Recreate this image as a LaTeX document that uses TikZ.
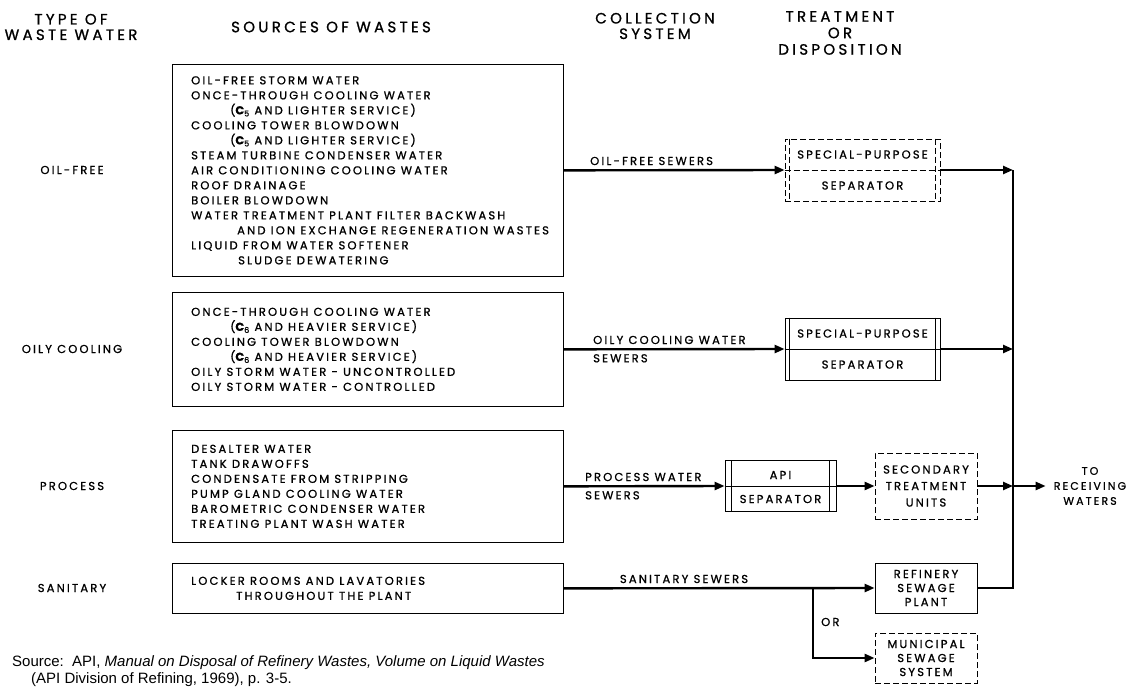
\documentclass[tikz,border=0pt]{standalone}
\usepackage{fontspec}
\setmainfont{Liberation Sans}
\newfontfamily\dgfont[LetterSpace=19,FakeBold=1]{Poppins}
\newfontfamily\hdfont[LetterSpace=22,FakeBold=1]{Poppins}
\usetikzlibrary{arrows.meta,positioning}
\newcommand\carbon[1]{{\bfseries C}\raisebox{-2pt}{\fontsize{8}{8}\selectfont#1}}
\tikzset{>={Triangle[length=10pt,width=8pt]},
  every node/.style={font=\dgfont\fontsize{11.5}{15}\selectfont,inner sep=0pt},
  head/.style={font=\hdfont\fontsize{15}{15.5}\selectfont,align=center},
  srcbox/.style={draw,line width=.7pt,anchor=north west,minimum width=391pt},
  srctext/.style={anchor=west,align=left},
  unit/.style={draw,line width=.8pt,align=center},
  optional/.style={unit,dash pattern=on 6pt off 3pt},
  flow/.style={->,line width=2.4pt},
  pipe/.style={line width=2.4pt}}

\begin{document}
\begin{tikzpicture}[x=1pt,y=-1pt]
\useasboundingbox (0,0) rectangle (1127,698);
\node[head] (type) at (71,27) {TYPE OF\\WASTE WATER};
\node[head] (sources) at (331,27) {SOURCES OF WASTES};
\node[head] (collect) at (655,26) {COLLECTION\\SYSTEM};
\node[head,font=\hdfont\fontsize{15}{16.5}\selectfont] (treat) at (840,33) {TREATMENT\\OR\\DISPOSITION};

\node (oilfree) at (72,170) {OIL-FREE};
\node (oily) at (72,349) {OILY COOLING};
\node (process) at (72,486) {PROCESS};
\node (sanitary) at (72,588) {SANITARY};

\node[srcbox,minimum height=212pt] (src1) at (172,64) {};
\node[srctext] (txt1) at ([xshift=19pt]src1.west) {OIL-FREE STORM WATER\\
ONCE-THROUGH COOLING WATER\\
\hspace*{39pt}(\carbon{5} AND LIGHTER SERVICE)\\
COOLING TOWER BLOWDOWN\\
\hspace*{39pt}(\carbon{5} AND LIGHTER SERVICE)\\
STEAM TURBINE CONDENSER WATER\\
AIR CONDITIONING COOLING WATER\\
ROOF DRAINAGE\\
BOILER BLOWDOWN\\
WATER TREATMENT PLANT FILTER BACKWASH\\
\hspace*{46pt}AND ION EXCHANGE REGENERATION WASTES\\
LIQUID FROM WATER SOFTENER\\
\hspace*{47pt}SLUDGE DEWATERING};
\node[srcbox,minimum height=114pt] (src2) at (172,292) {};
\node[srctext] (txt2) at ([xshift=19pt]src2.west) {ONCE-THROUGH COOLING WATER\\
\hspace*{39pt}(\carbon{6} AND HEAVIER SERVICE)\\
COOLING TOWER BLOWDOWN\\
\hspace*{39pt}(\carbon{6} AND HEAVIER SERVICE)\\
OILY STORM WATER - UNCONTROLLED\\
OILY STORM WATER - CONTROLLED};
\node[srcbox,minimum height=112pt] (src3) at (172,430) {};
\node[srctext] (txt3) at ([xshift=19pt]src3.west) {DESALTER WATER\\
TANK DRAWOFFS\\
CONDENSATE FROM STRIPPING\\
PUMP GLAND COOLING WATER\\
BAROMETRIC CONDENSER WATER\\
TREATING PLANT WASH WATER};
\node[srcbox,minimum height=50pt] (src4) at (172,563) {};
\node[srctext] (txt4) at ([xshift=19pt]src4.west) {LOCKER ROOMS AND LAVATORIES\\
\hspace*{45pt}THROUGHOUT THE PLANT};

\node[optional,minimum width=155pt,minimum height=62pt] (sp1) at (862.5,170) {};
\node (sp1a) at ([yshift=15.5pt]sp1.center) {SPECIAL-PURPOSE};
\node (sp1b) at ([yshift=-15.5pt]sp1.center) {SEPARATOR};
\node[unit,minimum width=155pt,minimum height=62pt] (sp2) at (862.5,349) {};
\node (sp2a) at ([yshift=15.5pt]sp2.center) {SPECIAL-PURPOSE};
\node (sp2b) at ([yshift=-15.5pt]sp2.center) {SEPARATOR};
\node[unit,minimum width=111pt,minimum height=51pt] (api) at (780.5,486) {};
\node (apia) at ([yshift=11pt]api.center) {API};
\node (apib) at ([yshift=-13pt]api.center) {SEPARATOR};
\draw[optional] ([xshift=5pt]sp1.north west) -- ([xshift=5pt]sp1.south west)
  ([xshift=-5pt]sp1.north east) -- ([xshift=-5pt]sp1.south east) (sp1.west) -- (sp1.east);
\foreach \s/\d in {sp2/5pt,api/7pt}
  \draw[unit] ([xshift=\d]\s.north west) -- ([xshift=\d]\s.south west)
    ([xshift=-\d]\s.north east) -- ([xshift=-\d]\s.south east) (\s.west) -- (\s.east);

\node[optional,minimum width=102pt,minimum height=66pt,font=\dgfont\fontsize{11.5}{16.5}\selectfont] (sec) at (926,486) {SECONDARY\\TREATMENT\\UNITS};
\node[unit,minimum width=102pt,minimum height=50pt,font=\dgfont\fontsize{11.5}{14}\selectfont] (ref) at (926,588) {REFINERY\\SEWAGE\\PLANT};
\node[optional,minimum width=102pt,minimum height=50pt,font=\dgfont\fontsize{11.5}{14}\selectfont] (mun) at (926,658) {MUNICIPAL\\SEWAGE\\SYSTEM};
\coordinate (col) at (1013,170);
\node[align=center,font=\dgfont\fontsize{11}{15}\selectfont] (rcv) at (1090,486) {TO\\RECEIVING\\WATERS};

\draw[flow] (src1.east) -- (sp1.west);
\draw[flow] (src2.east) -- (sp2.west);
\draw[flow] (src3.east) -- (api.west);
\draw[flow] (api.east) -- (sec.west);
\draw[flow] (src4.east) -- (ref.west);
\coordinate (br) at (813,588);
\draw[flow] (br) |- (mun.west);
\draw[flow] (sp1.east) -- (sp1.east -| col);
\draw[flow] (sp2.east) -- (sp2.east -| col);
\draw[flow] (sec.east) -- (sec.east -| col);
\draw[pipe] (ref.east) -| (col);
\draw[flow] (sec.east -| col) -- ([xshift=-8pt]rcv.west);

\node[anchor=base west] (sw1) at (590,165) {OIL-FREE SEWERS};
\node[anchor=base west] (sw2a) at (593,344) {OILY COOLING WATER};
\node[anchor=north west] (sw2b) at (593,354) {SEWERS};
\node[anchor=base west] (sw3a) at (585,481) {PROCESS WATER};
\node[anchor=north west] (sw3b) at (585,491) {SEWERS};
\node[anchor=base] (sw4) at (684,583) {SANITARY SEWERS};
\node[anchor=west] (orlab) at (821,622) {OR};

\node[anchor=north west,align=left,font=\fontsize{15}{17}\selectfont] (cite) at (12,655) {Source:\ \ API, \textit{Manual on Disposal of Refinery Wastes, Volume on Liquid Wastes}\\
\hspace*{19pt}(API Division of Refining, 1969), p. 3-5.};
\end{tikzpicture}
\end{document}
